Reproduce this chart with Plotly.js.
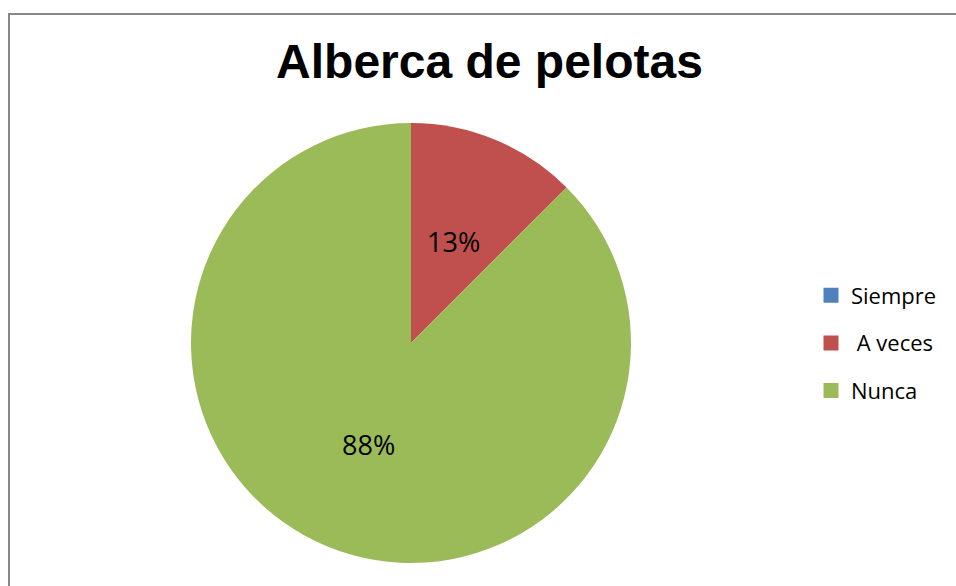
<!DOCTYPE html>
<html>
<head>
<meta charset="utf-8">
<script src="https://cdn.plot.ly/plotly-3.0.1.min.js"></script>
<style>
html,body{margin:0;padding:0;background:#fff;overflow:hidden;}
#wrap{position:relative;width:956px;height:586px;overflow:hidden;}
#chart{width:956px;height:586px;}
#frame{position:absolute;left:8px;top:13px;width:1000px;height:700px;border-left:2px solid #878787;border-top:2px solid #878787;pointer-events:none;}
</style>
</head>
<body>
<div id="wrap">
<div id="chart"></div>
<div id="frame"></div>
</div>
<script>
const titleText = 'Alberca de pelotas';
const categories = ['Siempre', '\u00A0A veces', 'Nunca'];
const values = [0, 1, 7];
const colors = ['#4F81BD', '#C0504D', '#9BBB59'];

const W = 956, H = 586;
const domX = [191/W, 631/W], domY = [23/H, 463/H];

const pie = {
  type: 'pie',
  labels: categories,
  values: values,
  sort: false,
  direction: 'clockwise',
  rotation: 0,
  marker: {colors: colors, line: {width: 0}},
  textinfo: 'none',
  showlegend: false,
  hoverinfo: 'label+percent',
  domain: {x: domX, y: domY}
};

const legendTraces = categories.map((c, i) => ({
  type: 'scatter',
  mode: 'markers',
  x: [null], y: [null],
  name: c,
  legendgroup: 'g' + i,
  marker: {symbol: 'square', size: 15, color: colors[i]},
  showlegend: true
}));

// percent labels placed at half radius along each slice's bisector (clockwise from 12 o'clock)
const total = values.reduce((a, b) => a + b, 0);
const cx = (domX[0] + domX[1]) / 2 * W, cy = H - (domY[0] + domY[1]) / 2 * H;
const R = (domX[1] - domX[0]) * W / 2;
const annotations = [];
let cum = 0;
values.forEach((v, i) => {
  const frac = v / total;
  if (v > 0) {
    const mid = (cum + frac / 2) * 2 * Math.PI;
    const px = cx + 0.5 * R * Math.sin(mid);
    const py = cy - 0.5 * R * Math.cos(mid);
    annotations.push({
      xref: 'paper', yref: 'paper', x: px / W, y: 1 - py / H,
      xanchor: 'center', yanchor: 'middle', showarrow: false,
      text: Math.round(frac * 100) + '%',
      font: {family: 'Open Sans, sans-serif', size: 27, color: '#000'}
    });
  }
  cum += frac;
});

const layout = {
  width: W, height: H,
  margin: {l: 0, r: 0, t: 0, b: 0},
  paper_bgcolor: '#fff', plot_bgcolor: '#fff',
  title: {text: '<b>' + titleText + '</b>', x: 489.5/W, xanchor: 'center', y: 1 - 61/H, yanchor: 'middle',
          font: {family: 'Liberation Sans, Arial, sans-serif', size: 48, color: '#000'}},
  xaxis: {visible: false}, yaxis: {visible: false},
  showlegend: true,
  legend: {x: 811/W, xanchor: 'left', y: 1 - 343/H, yanchor: 'middle', tracegroupgap: 16,
           font: {family: 'Open Sans, sans-serif', size: 22, color: '#000'}, bgcolor: 'rgba(0,0,0,0)'},
  annotations: annotations
};

Plotly.newPlot('chart', [pie].concat(legendTraces), layout, {displayModeBar: false, staticPlot: true});
</script>
</body>
</html>
